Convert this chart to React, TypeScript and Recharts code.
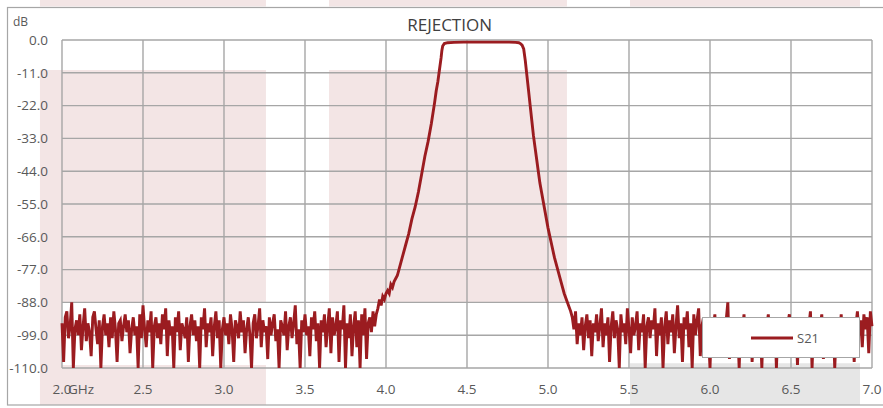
import { LineChart, Line, XAxis, YAxis, CartesianGrid, ReferenceArea, Legend } from 'recharts'

const LINE_COLOR = '#9b1c20'
const PINK = '#f3e5e5'
const GREY_BAND = '#e6e6e6'
const GRID = '#a6a6a6'
const TEXT = '#595959'
const FONT = '"Open Sans", "Noto Sans", sans-serif'

// axis ticks
const xTicks = [2, 2.5, 3, 3.5, 4, 4.5, 5, 5.5, 6, 6.5, 7]
const yTicks = [0, -11, -22, -33, -44, -55, -66, -77, -88, -99, -110]

// noise floor below the passband, 2.00 .. 3.94 GHz every 10 MHz
const LOW_START = 2.0
const lowNoise = [
  -95, -108, -93, -91, -100, -96, -88, -110, -97, -94,
  -99, -92, -104, -96, -90, -101, -95, -98, -106, -93,
  -91, -97, -102, -94, -110, -96, -92, -99, -95, -103,
  -93, -100, -91, -97, -108, -95, -94, -101, -96, -92,
  -98, -94, -105, -97, -93, -99, -96, -110, -92, -100,
  -89, -97, -103, -94, -98, -91, -110, -96, -93, -100,
  -95, -102, -92, -97, -90, -106, -94, -99, -96, -110,
  -93, -98, -91, -104, -95, -97, -100, -93, -108, -96,
  -92, -99, -94, -101, -96, -110, -93, -97, -90, -103,
  -95, -98, -93, -106, -96, -91, -100, -94, -110, -97,
  -93, -99, -95, -102, -92, -97, -108, -94, -96, -100,
  -91, -98, -94, -105, -97, -93, -99, -110, -95, -92,
  -100, -96, -90, -103, -94, -98, -96, -107, -93, -99,
  -95, -92, -101, -97, -110, -94, -96, -99, -91, -104,
  -96, -93, -100, -95, -89, -102, -97, -110, -94, -98,
  -92, -99, -96, -106, -93, -97, -91, -101, -95, -110,
  -94, -98, -92, -103, -96, -90, -105, -93, -99, -96,
  -91, -108, -94, -97, -89, -110, -95, -100, -92, -106,
  -96, -91, -103, -94, -110, -92, -99, -90, -107, -95,
  -93, -98, -91, -96, -92,
]

// skirts and passband
const bandFreqs = [
  3.95, 3.96, 3.97, 3.98, 3.99, 4.0, 4.01, 4.02, 4.03, 4.04, 4.05, 4.06, 4.07, 4.08, 4.09, 4.1,
  4.12, 4.14, 4.16, 4.18, 4.2, 4.22, 4.24, 4.26, 4.28, 4.3,
  4.31, 4.32, 4.33, 4.34, 4.345, 4.35, 4.36, 4.38,
  4.42, 4.48, 4.55, 4.62, 4.7, 4.76, 4.8,
  4.82, 4.83, 4.84, 4.85, 4.86, 4.87, 4.88, 4.89, 4.9, 4.91, 4.92, 4.93, 4.94, 4.95, 4.96,
  4.98, 5.0, 5.02, 5.04, 5.06, 5.08, 5.1, 5.12, 5.14,
]
const bandDb = [
  -90, -87, -89, -86, -87, -85, -84, -85, -82, -83, -81, -80, -79, -77, -75, -73,
  -69, -65, -60, -56, -51, -45, -39, -34, -28, -21,
  -17, -14, -10, -6, -3.5, -2, -1.2, -0.9,
  -0.8, -0.7, -0.7, -0.7, -0.7, -0.7, -0.8,
  -0.9, -1.2, -1.7, -3, -7, -12, -17, -22, -27, -32, -36, -40, -44, -48, -51,
  -57, -63, -68, -73, -77, -81, -85, -88, -91,
]

// noise floor above the passband, 5.15 .. 7.00 GHz every 10 MHz
const HIGH_START = 5.15
const highNoise = [
  -93, -97, -91, -102, -95, -99, -93, -104, -96, -92,
  -100, -94, -106, -95, -98, -92, -101, -96, -90, -103,
  -95, -99, -93, -108, -96, -91, -100, -94, -97, -110,
  -92, -98, -95, -102, -90, -97, -105, -93, -99, -96,
  -91, -104, -95, -98, -92, -110, -96, -93, -100, -94,
  -97, -90, -106, -95, -99, -93, -110, -96, -91, -102,
  -94, -98, -92, -105, -96, -89, -100, -95, -108, -93,
  -97, -91, -103, -95, -110, -92, -99, -94, -90, -106,
  -96, -93, -101, -95, -98, -110, -94, -97, -92, -104,
  -95, -99, -93, -96, -102, -94, -88, -107, -95, -100,
  -93, -98, -96, -110, -94, -97, -92, -103, -95, -99,
  -94, -108, -96, -93, -101, -97, -95, -110, -93, -99,
  -96, -92, -104, -95, -98, -93, -110, -96, -94, -100,
  -97, -93, -106, -95, -92, -101, -96, -98, -94, -109,
  -95, -99, -93, -97, -104, -94, -96, -91, -110, -95,
  -98, -93, -100, -96, -92, -107, -95, -99, -94, -102,
  -96, -93, -110, -97, -94, -99, -92, -105, -96, -93,
  -100, -95, -97, -93, -108, -96, -91, -99, -94, -103,
  -92, -97, -93, -105, -91, -96,
]

const STEP = 0.01

const s21Data = [
  ...lowNoise.map((db, i) => ({ freq: +(LOW_START + i * STEP).toFixed(3), s21: db })),
  ...bandFreqs.map((f, i) => ({ freq: f, s21: bandDb[i] })),
  ...highNoise.map((db, i) => ({ freq: +(HIGH_START + i * STEP).toFixed(3), s21: db })),
]

// mask bands drawn behind the plot (GHz / dB)
const maskBands = [
  { x1: 1.864, x2: 3.259 },
  { x1: 3.648, x2: 5.117 },
  { x1: 5.506, x2: 6.926 },
]

function FreqTick({ x, y, payload, index }: any) {
  return (
    <g>
      <text x={x} y={y} dy="0.71em" textAnchor="middle" fill={TEXT} fontSize={13.5} fontFamily={FONT}>
        {Number(payload.value).toFixed(1)}
      </text>
      {index === 0 && (
        <text x={x + 6} y={y} dy="0.71em" textAnchor="start" fill={TEXT} fontSize={13.5} fontFamily={FONT}>
          GHz
        </text>
      )}
    </g>
  )
}

function LegendBox({ payload }: any) {
  const item = payload && payload[0]
  return (
    <div
      style={{
        width: 158,
        height: 41,
        boxSizing: 'border-box',
        border: `1px solid ${GRID}`,
        background: '#fff',
        position: 'relative',
      }}
    >
      <svg width={158} height={41} style={{ position: 'absolute', left: -1, top: -1 }}>
        <line x1={49} x2={91} y1={21} y2={21} stroke={item ? item.color : LINE_COLOR} strokeWidth={2.9} />
        <text x={95} y={26} fontSize={13} fill={TEXT} fontFamily={FONT}>
          {item ? item.value : 'S21'}
        </text>
      </svg>
    </div>
  )
}

export default function App() {
  return (
    <div style={{ position: 'absolute', left: 0, top: 0, width: 883, height: 408, background: '#fff' }}>
      <LineChart width={883} height={408} data={s21Data} margin={{ top: 40, right: 11, left: 0, bottom: 0 }}>
        {maskBands.map((b, i) => (
          <ReferenceArea
            key={`top-${i}`}
            x1={b.x1}
            x2={b.x2}
            y1={13.41}
            y2={11.23}
            fill={PINK}
            fillOpacity={1}
            stroke="none"
            ifOverflow="visible"
            zIndex={-150}
          />
        ))}
        <ReferenceArea x1={1.864} x2={2} y1={-10.1} y2={-122.4} fill={PINK} fillOpacity={1} stroke="none" ifOverflow="visible" zIndex={-150} />
        <ReferenceArea x1={2} x2={3.259} y1={-10.1} y2={-88} fill={PINK} fillOpacity={1} stroke="none" ifOverflow="visible" zIndex={-150} />
        <ReferenceArea x1={2} x2={3.259} y1={-109} y2={-122.4} fill={PINK} fillOpacity={1} stroke="none" ifOverflow="visible" zIndex={-150} />
        <ReferenceArea x1={3.648} x2={5.117} y1={-10.1} y2={-88} fill={PINK} fillOpacity={1} stroke="none" ifOverflow="visible" zIndex={-150} />
        <ReferenceArea x1={5.506} x2={6.926} y1={-108.4} y2={-122.4} fill={GREY_BAND} fillOpacity={1} stroke="none" ifOverflow="visible" zIndex={-150} />
        <CartesianGrid stroke={GRID} strokeWidth={1.4} />
        <XAxis
          dataKey="freq"
          type="number"
          domain={[2, 7]}
          ticks={xTicks}
          interval={0}
          height={40}
          axisLine={false}
          tickLine={false}
          tickMargin={10}
          tick={<FreqTick />}
        />
        <YAxis
          type="number"
          domain={[-110, 0]}
          ticks={yTicks}
          interval={0}
          width={62}
          axisLine={false}
          tickLine={false}
          tickMargin={8}
          tickFormatter={(v: number) => v.toFixed(1)}
          tick={{ fontSize: 13.5, fill: TEXT, fontFamily: FONT }}
        />
        <Legend
          layout="horizontal"
          verticalAlign="middle"
          wrapperStyle={{ position: 'absolute', left: 702, top: 317, width: 158, height: 41 }}
          content={<LegendBox />}
        />
        <Line
          type="linear"
          dataKey="s21"
          name="S21"
          stroke={LINE_COLOR}
          strokeWidth={2.9}
          dot={false}
          activeDot={false}
          isAnimationActive={false}
        />
      </LineChart>
      <svg width={883} height={408} style={{ position: 'absolute', left: 0, top: 0, pointerEvents: 'none' }}>
        <rect x={7.5} y={7.5} width={900} height={397.5} fill="none" stroke={GRID} strokeWidth={1.2} />
        <text x={449.6} y={30.7} textAnchor="middle" fontSize={17} fill="#404040" fontFamily={FONT}>
          REJECTION
        </text>
        <text x={13} y={25.7} fontSize={12} fill={TEXT} fontFamily={FONT}>
          dB
        </text>
      </svg>
    </div>
  )
}
